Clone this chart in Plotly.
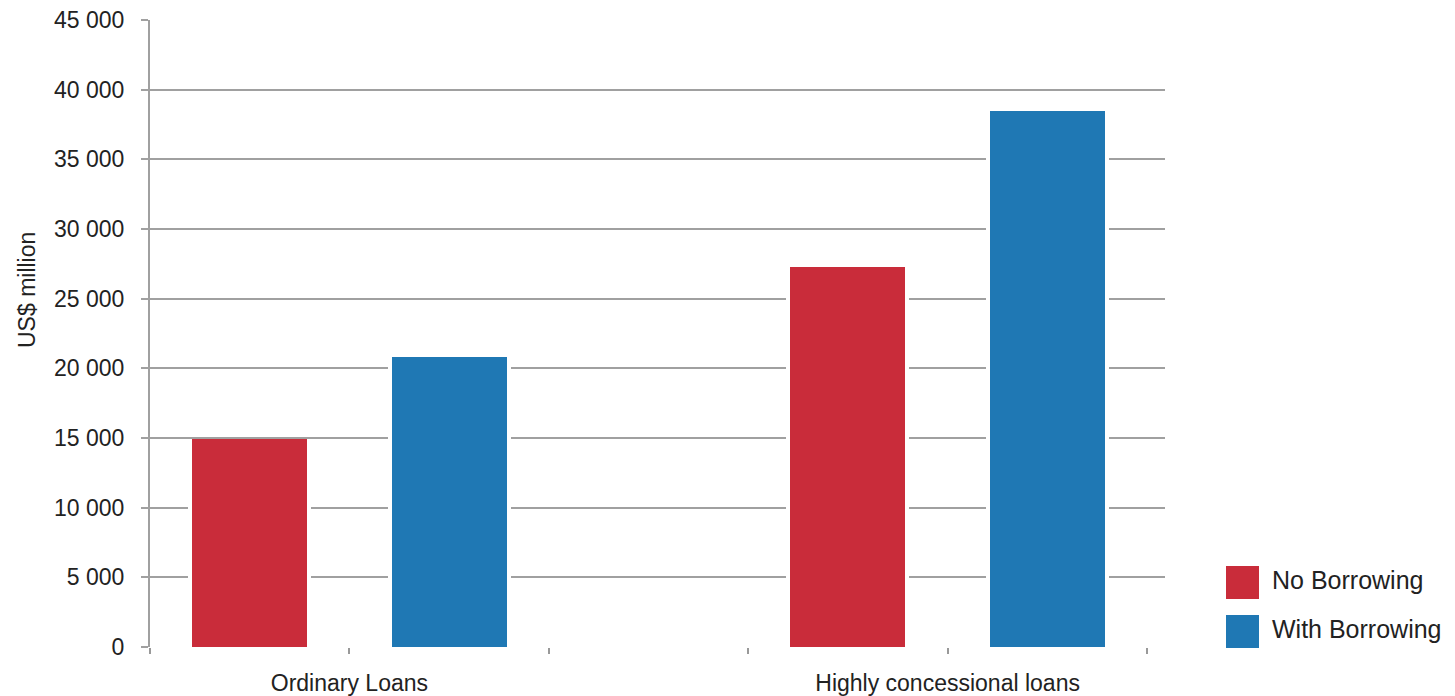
import plotly.graph_objects as go

categories = ["Ordinary Loans", "Highly concessional loans"]
series_names = ["No Borrowing", "With Borrowing"]
no_borrowing = [14900, 27300]
with_borrowing = [20800, 38450]
colors = ["#C92C3A", "#1F78B4"]

y_ticks = [0, 5000, 10000, 15000, 20000, 25000, 30000, 35000, 40000, 45000]

# slot positions: each category occupies two slots, with an empty slot between groups
slot_centers = {
    ("Ordinary Loans", "No Borrowing"): 0.5,
    ("Ordinary Loans", "With Borrowing"): 1.5,
    ("Highly concessional loans", "No Borrowing"): 3.5,
    ("Highly concessional loans", "With Borrowing"): 4.5,
}
label_pos = [1, 4]

W, H = 1455, 696
PX0, PX1 = 150, 1165      # main plot horizontal extent (px)
PY0, PY1 = 20, 647        # main plot vertical extent (px)
UNIT = 199.4              # px per slot
BAR_W = 115 / UNIT        # coloured bar width (slot units)
HALO_W = 123 / UNIT       # white gap around bar (slot units)

FONT = "Liberation Sans, Arial, sans-serif"

fig = go.Figure()
# white halo behind bars so the gridlines stop short of the bars
for name, vals in zip(series_names, [no_borrowing, with_borrowing]):
    fig.add_trace(go.Bar(
        x=[slot_centers[(c, name)] for c in categories],
        y=vals, width=HALO_W,
        marker=dict(color="white", line=dict(width=0)),
        showlegend=False, hoverinfo="skip",
        xaxis="x", yaxis="y",
    ))
for name, vals, col in zip(series_names, [no_borrowing, with_borrowing], colors):
    fig.add_trace(go.Bar(
        x=[slot_centers[(c, name)] for c in categories],
        y=vals, width=BAR_W,
        marker=dict(color=col, line=dict(width=0)),
        name=name, showlegend=False,
        xaxis="x", yaxis="y",
    ))

# legend drawn as large square markers with labels
for i, (name, col) in enumerate(zip(series_names, colors)):
    fig.add_trace(go.Scatter(
        x=[0], y=[-i],
        mode="markers",
        marker=dict(symbol="square", size=33, color=col, line=dict(width=0)),
        showlegend=False, hoverinfo="skip",
        xaxis="x2", yaxis="y2", cliponaxis=False,
    ))
    fig.add_trace(go.Scatter(
        x=[1], y=[-i],
        mode="text",
        text=[name], textposition="middle right",
        textfont=dict(size=25, color="#222222", family=FONT),
        showlegend=False, hoverinfo="skip",
        xaxis="x2", yaxis="y2", cliponaxis=False,
    ))

# legend axis: x=0 at px 1242.5, x=1 at px 1272 ; y=0 at px 582.5, y=-1 at px 631.5
lx0, lx1 = 1242.5, 1272
ly0, ly1 = 582.5, 631.5
lxs = lx1 - lx0
lys = ly1 - ly0

fig.update_layout(
    width=W, height=H,
    margin=dict(l=0, r=0, t=PY0, b=H - PY1, autoexpand=False),
    plot_bgcolor="rgba(0,0,0,0)", paper_bgcolor="white",
    separators=". ",
    font=dict(family=FONT, size=23, color="#222222"),
    barmode="overlay", bargap=0,
    xaxis=dict(
        domain=[PX0 / W, PX1 / W],
        range=[0, (PX1 - PX0) / UNIT],
        tickvals=label_pos, ticktext=categories,
        ticks="outside", ticklen=6, tickwidth=1.5, tickcolor="#999999",
        tickfont=dict(size=23),
        ticklabelstandoff=9,
        minor=dict(dtick=1, tick0=0, ticks="outside", ticklen=6, tickwidth=1.5,
                   tickcolor="#999999", showgrid=False),
        showgrid=False, zeroline=False, showline=False,
        automargin=False, fixedrange=True,
    ),
    yaxis=dict(
        range=[0, 45000],
        tickvals=y_ticks, tickformat=",d",
        ticks="outside", ticklen=7, tickwidth=2, tickcolor="#a0a0a0",
        ticklabelstandoff=12,
        showgrid=True, gridcolor="#a0a0a0", gridwidth=2,
        zeroline=False,
        showline=True, linecolor="#a0a0a0", linewidth=2,
        tickfont=dict(size=23),
        automargin=False, anchor="x",
    ),
    xaxis2=dict(domain=[1200 / W, 1.0],
                range=[-(lx0 - 1200) / lxs, (W - lx0) / lxs],
                visible=False, fixedrange=True, anchor="y2"),
    yaxis2=dict(domain=[0, 1],
                range=[-(PY1 - ly0) / lys, (ly0 - PY0) / lys],
                visible=False, anchor="x2"),
)

fig.add_annotation(
    text="US$ million", textangle=-90,
    xref="paper", yref="paper",
    x=27 / W, y=(PY1 - 290) / (PY1 - PY0),
    showarrow=False, font=dict(size=23),
    xanchor="center", yanchor="middle",
)

fig.write_html("out.html")
